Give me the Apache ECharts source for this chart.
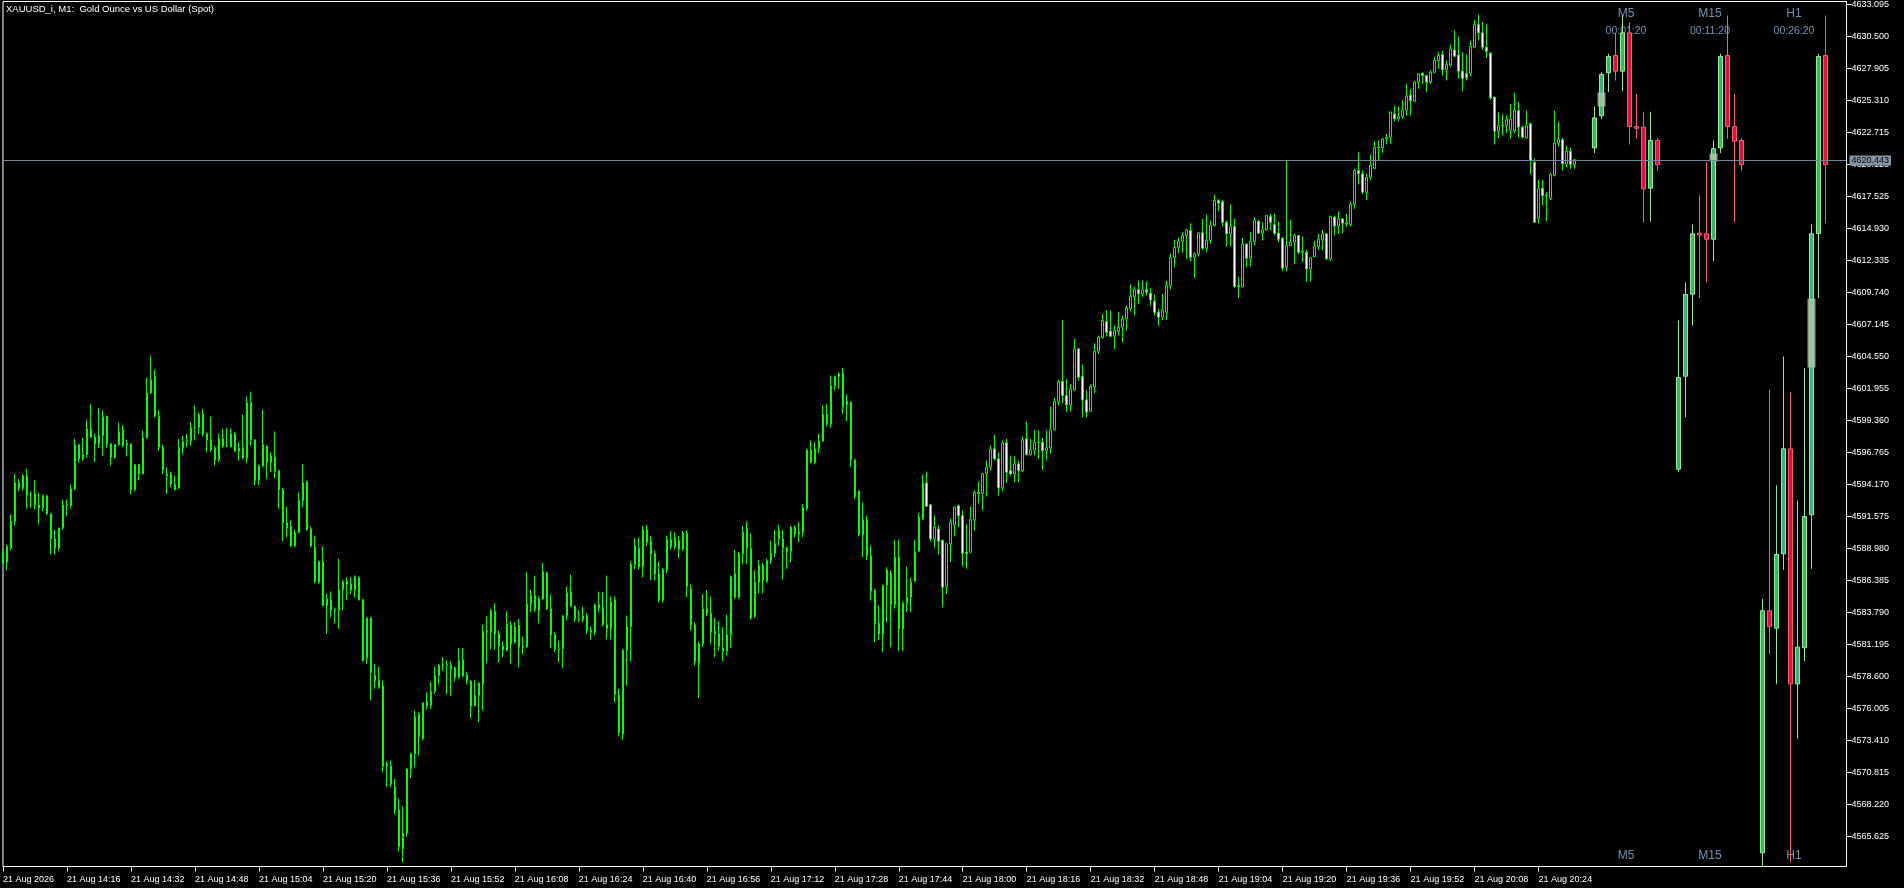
<!DOCTYPE html>
<html><head><meta charset="utf-8">
<script src="https://cdn.jsdelivr.net/npm/echarts@6/dist/echarts.min.js"></script>
<style>html,body{margin:0;padding:0;background:#000;overflow:hidden}#c{width:1904px;height:888px}</style>
</head><body><div id="c"></div>
<script>
const symbolTitle = 'XAUUSD_i, M1:  Gold Ounce vs US Dollar (Spot)';
const startMinute = 14 * 60;
const bidPrice = 4620.443;
const timeTickLabels = ['21 Aug 2026','21 Aug 14:16','21 Aug 14:32','21 Aug 14:48','21 Aug 15:04','21 Aug 15:20','21 Aug 15:36','21 Aug 15:52','21 Aug 16:08','21 Aug 16:24','21 Aug 16:40','21 Aug 16:56','21 Aug 17:12','21 Aug 17:28','21 Aug 17:44','21 Aug 18:00','21 Aug 18:16','21 Aug 18:32','21 Aug 18:48','21 Aug 19:04','21 Aug 19:20','21 Aug 19:36','21 Aug 19:52','21 Aug 20:08','21 Aug 20:24'];
const priceTicks = [4565.625,4568.220,4570.815,4573.410,4576.005,4578.600,4581.195,4583.790,4586.385,4588.980,4591.575,4594.170,4596.765,4599.360,4601.955,4604.550,4607.145,4609.740,4612.335,4614.930,4617.525,4620.120,4622.715,4625.310,4627.905,4630.500,4633.095];

const m1Open = [4588.6,4587.87,4589.0,4591.2,4594.3,4593.9,4594.87,4593.33,4593.4,4592.5,4592.3,4593.25,4591.8,4589.76,4589.03,4590.65,4592.52,4592.45,4593.82,4597.39,4596.25,4596.6,4598.68,4598.0,4597.47,4598.14,4599.68,4597.47,4596.39,4597.41,4598.6,4597.36,4597.47,4593.76,4595.79,4595.03,4597.95,4601.6,4602.93,4599.7,4597.2,4595.0,4594.95,4594.14,4593.9,4597.14,4597.66,4597.7,4598.76,4598.8,4599.84,4598.28,4597.79,4597.14,4596.17,4597.87,4597.28,4597.25,4598.3,4596.87,4597.14,4596.33,4600.8,4597.79,4594.49,4595.68,4597.3,4595.98,4596.4,4595.3,4593.76,4591.06,4590.76,4589.2,4590.3,4592.87,4594.4,4590.57,4589.09,4586.25,4587.92,4584.36,4584.8,4584.0,4583.95,4585.63,4586.3,4586.1,4585.63,4586.6,4584.82,4580.1,4583.36,4578.68,4578.28,4577.84,4571.35,4571.35,4569.63,4567.79,4564.63,4565.9,4571.11,4572.33,4575.5,4573.55,4576.55,4576.27,4577.38,4578.68,4579.49,4579.5,4579.55,4579.3,4578.54,4579.95,4578.73,4578.2,4576.25,4577.06,4578.0,4582.25,4582.2,4583.87,4582.06,4581.08,4580.7,4582.79,4581.38,4582.73,4580.98,4581.0,4584.49,4585.17,4584.0,4584.9,4587.0,4584.09,4581.98,4580.84,4580.84,4583.52,4585.41,4584.3,4583.27,4583.2,4583.52,4582.33,4582.2,4584.41,4584.2,4582.8,4582.5,4584.8,4577.1,4573.95,4580.71,4582.65,4587.68,4589.0,4587.5,4590.5,4589.5,4588.55,4586.92,4584.8,4587.25,4589.7,4589.9,4589.6,4588.95,4590.2,4585.71,4582.79,4579.68,4581.25,4584.09,4583.73,4582.27,4582.06,4580.65,4580.65,4581.98,4586.92,4585.03,4588.55,4590.6,4588.95,4583.46,4586.25,4587.6,4586.33,4588.0,4588.6,4590.4,4589.76,4589.03,4588.74,4590.71,4590.17,4590.3,4592.2,4596.98,4595.98,4597.06,4597.68,4599.82,4599.09,4602.17,4602.93,4603.14,4600.93,4600.85,4596.17,4593.63,4590.1,4591.3,4588.38,4585.57,4582.92,4582.06,4585.98,4586.93,4584.44,4588.28,4582.46,4584.55,4585.03,4586.33,4588.76,4591.38,4594.3,4592.52,4589.76,4590.57,4589.63,4585.9,4589.36,4590.9,4592.44,4591.65,4588.68,4588.68,4591.3,4593.52,4593.45,4595.03,4595.57,4597.06,4596.25,4593.9,4597.55,4595.3,4595.03,4595.84,4595.3,4597.87,4596.6,4596.98,4597.6,4597.6,4596.92,4597.14,4598.6,4600.9,4602.52,4601.39,4600.63,4601.85,4605.17,4602.93,4601.03,4600.11,4602.06,4604.98,4606.06,4607.39,4606.6,4606.2,4606.6,4606.93,4607.6,4608.41,4609.41,4609.96,4609.63,4609.96,4609.68,4609.04,4608.14,4607.74,4608.14,4610.3,4612.6,4613.4,4613.9,4614.36,4614.77,4612.6,4612.87,4614.58,4613.33,4613.95,4615.17,4617.2,4617.1,4615.44,4614.5,4615.09,4610.23,4610.2,4613.68,4612.52,4613.87,4615.52,4614.55,4614.82,4615.9,4615.23,4614.55,4614.14,4611.8,4613.55,4613.82,4614.36,4613.0,4613.0,4611.65,4612.66,4613.47,4614.0,4614.5,4612.47,4615.85,4615.14,4615.71,4615.36,4615.23,4616.88,4619.63,4619.36,4617.87,4619.09,4619.8,4621.52,4621.47,4622.2,4622.33,4624.22,4623.82,4624.0,4624.55,4625.74,4625.25,4626.8,4627.52,4627.33,4626.8,4627.6,4628.55,4629.04,4627.8,4628.15,4629.41,4629.0,4627.69,4627.47,4627.52,4629.63,4631.47,4630.8,4629.63,4629.15,4625.58,4622.82,4623.26,4623.3,4622.93,4622.87,4624.5,4623.15,4622.28,4623.42,4620.3,4615.79,4618.2,4617.6,4617.4,4619.23,4621.85,4622.12,4620.17,4621.2,4620.12];
const m1High = [4588.8,4589.3,4591.73,4595.03,4594.6,4595.03,4595.44,4593.6,4594.55,4593.5,4593.3,4593.3,4591.8,4590.5,4590.65,4592.95,4592.95,4594.17,4597.87,4597.4,4597.95,4599.4,4600.71,4598.3,4600.4,4600.17,4599.76,4597.5,4597.47,4599.2,4598.95,4597.82,4597.47,4595.84,4595.8,4598.55,4602.82,4604.6,4603.5,4600.2,4597.4,4595.57,4595.17,4594.87,4597.87,4598.14,4598.28,4599.22,4600.58,4600.0,4600.3,4598.4,4599.68,4597.3,4598.3,4598.68,4598.76,4598.68,4598.41,4597.6,4599.84,4601.3,4601.7,4597.8,4595.79,4600.22,4597.33,4596.79,4598.47,4595.36,4593.9,4592.38,4591.25,4590.5,4593.52,4595.84,4594.49,4590.76,4590.03,4588.0,4589.14,4585.3,4585.5,4584.2,4588.14,4586.4,4586.65,4586.65,4586.8,4586.7,4584.9,4583.4,4583.4,4579.63,4579.4,4578.28,4571.73,4571.78,4570.3,4568.68,4568.06,4571.2,4572.4,4575.84,4575.7,4576.5,4577.33,4578.19,4579.4,4579.63,4580.17,4579.9,4579.84,4579.4,4580.92,4580.92,4578.95,4578.33,4578.33,4578.14,4582.81,4583.46,4584.09,4584.54,4582.33,4581.46,4583.9,4583.08,4583.0,4583.27,4581.84,4587.06,4585.63,4586.79,4585.1,4587.82,4587.1,4585.25,4582.2,4581.5,4583.6,4585.9,4586.87,4584.35,4584.0,4584.27,4583.73,4582.65,4584.5,4585.49,4585.44,4586.79,4585.09,4585.09,4577.6,4580.84,4583.55,4587.95,4589.8,4589.9,4590.8,4590.9,4590.0,4588.8,4587.9,4587.4,4590.0,4590.4,4590.3,4590.0,4590.4,4590.5,4586.06,4583.0,4581.4,4585.3,4585.6,4585.1,4583.36,4583.1,4582.6,4583.6,4586.8,4588.87,4588.7,4590.8,4591.2,4590.2,4587.2,4588.06,4587.8,4588.14,4589.63,4590.5,4590.9,4590.49,4589.14,4590.8,4590.85,4591.12,4592.6,4597.05,4597.74,4597.6,4598.28,4600.58,4600.71,4603.0,4603.0,4603.28,4603.63,4601.47,4600.9,4596.25,4593.7,4592.68,4591.65,4589.22,4585.7,4584.36,4586.06,4587.46,4587.2,4589.68,4589.7,4584.68,4587.52,4586.6,4589.68,4591.87,4594.98,4595.22,4592.6,4591.65,4590.85,4589.7,4589.4,4591.38,4592.38,4592.55,4592.06,4590.98,4592.38,4593.68,4594.41,4595.1,4596.11,4597.33,4598.22,4596.79,4597.74,4597.87,4596.52,4596.44,4596.11,4598.06,4599.28,4597.87,4598.6,4598.55,4597.95,4598.55,4600.5,4601.2,4602.66,4607.52,4602.74,4602.33,4605.98,4605.2,4603.9,4601.79,4602.28,4605.63,4606.25,4608.01,4608.33,4608.28,4607.06,4608.14,4607.87,4608.68,4610.39,4610.2,4610.71,4610.71,4610.63,4610.12,4609.58,4608.41,4609.63,4610.7,4612.9,4614.0,4614.2,4614.63,4614.9,4615.36,4613.0,4614.6,4615.71,4616.07,4615.58,4617.69,4617.33,4617.25,4615.58,4616.88,4615.71,4611.0,4614.17,4613.7,4614.63,4615.85,4615.63,4615.44,4616.0,4616.12,4616.12,4615.44,4614.23,4620.44,4615.63,4614.5,4614.41,4614.28,4613.2,4612.6,4613.95,4614.5,4614.82,4614.55,4615.98,4615.98,4616.33,4615.79,4616.12,4617.07,4619.77,4621.09,4619.63,4619.36,4620.93,4622.01,4622.07,4622.25,4622.6,4624.44,4624.9,4624.82,4625.36,4626.66,4626.25,4626.88,4627.52,4627.6,4627.4,4627.74,4628.82,4629.23,4629.36,4628.55,4629.85,4630.99,4630.5,4629.23,4629.04,4630.17,4631.85,4632.28,4631.66,4631.47,4629.23,4625.63,4624.36,4624.2,4624.09,4625.04,4625.93,4625.17,4623.28,4624.5,4623.5,4620.58,4618.88,4618.88,4617.87,4619.42,4624.5,4623.55,4622.28,4621.66,4621.47,4620.58];
const m1Low = [4587.7,4587.2,4588.82,4590.84,4593.6,4593.68,4592.2,4592.28,4592.17,4590.95,4592.0,4591.7,4588.5,4588.5,4588.8,4590.5,4591.6,4592.2,4593.7,4595.93,4596.1,4596.33,4597.93,4595.98,4597.14,4596.52,4597.14,4595.71,4596.25,4597.3,4597.2,4596.44,4593.36,4593.63,4594.5,4595.0,4597.9,4601.5,4599.6,4596.9,4595.03,4593.41,4593.95,4593.68,4593.8,4596.6,4597.2,4597.33,4597.74,4598.28,4598.06,4596.79,4596.8,4595.71,4596.0,4597.14,4597.2,4597.14,4596.8,4596.1,4596.2,4595.9,4597.33,4594.09,4594.09,4595.57,4594.63,4595.17,4594.68,4592.2,4589.57,4589.9,4589.1,4589.1,4590.2,4592.33,4590.44,4589.09,4586.17,4586.1,4584.28,4582.06,4583.4,4582.9,4582.47,4583.95,4584.8,4585.3,4585.0,4584.76,4579.8,4579.63,4576.65,4577.6,4577.6,4570.84,4569.63,4569.63,4567.41,4564.43,4563.54,4565.62,4570.38,4571.24,4572.19,4573.4,4575.9,4575.98,4577.2,4577.95,4579.03,4577.14,4577.05,4578.2,4578.41,4578.54,4577.95,4575.22,4576.17,4574.9,4575.84,4579.68,4580.84,4580.76,4579.76,4580.17,4580.65,4579.63,4581.25,4579.35,4580.38,4580.9,4583.81,4583.81,4582.92,4584.8,4584.0,4580.92,4580.57,4579.76,4579.27,4583.14,4584.22,4583.0,4583.0,4583.0,4582.06,4581.6,4581.92,4583.81,4582.65,4581.63,4581.6,4576.52,4573.73,4573.46,4577.87,4579.84,4587.3,4587.3,4586.65,4589.2,4586.44,4586.38,4584.6,4584.6,4587.0,4588.9,4588.9,4588.22,4588.8,4585.03,4582.33,4579.5,4576.87,4581.0,4583.5,4581.25,4580.17,4580.7,4579.84,4580.3,4580.9,4584.9,4584.9,4587.73,4587.73,4583.2,4583.36,4585.36,4585.36,4586.2,4587.73,4588.3,4589.2,4586.47,4587.33,4587.87,4589.9,4589.49,4589.9,4592.06,4595.9,4595.79,4596.71,4597.6,4598.87,4598.76,4601.79,4601.93,4599.9,4599.3,4595.57,4593.0,4589.95,4588.28,4588.06,4584.76,4581.38,4581.57,4580.57,4583.0,4580.98,4584.09,4580.65,4580.65,4583.82,4583.82,4586.3,4588.7,4591.3,4592.35,4589.57,4589.03,4588.49,4584.22,4585.3,4587.87,4589.95,4590.71,4587.52,4587.33,4588.6,4590.44,4592.65,4592.06,4593.2,4595.3,4596.11,4593.28,4593.63,4594.28,4594.9,4594.36,4594.36,4595.17,4596.52,4596.52,4596.52,4596.25,4595.36,4596.11,4596.66,4598.55,4600.58,4600.77,4600.03,4600.1,4601.74,4602.6,4599.63,4599.63,4600.05,4601.58,4604.76,4605.98,4606.17,4606.12,4605.12,4606.25,4605.71,4606.66,4608.2,4607.87,4608.82,4609.36,4609.5,4608.68,4607.87,4607.06,4607.52,4607.52,4610.0,4611.8,4612.9,4613.0,4612.47,4612.28,4610.93,4612.66,4613.2,4613.0,4613.68,4615.1,4616.33,4615.09,4613.47,4613.47,4610.12,4609.28,4610.15,4611.8,4611.85,4613.55,4614.5,4613.95,4614.77,4614.77,4614.36,4613.82,4611.47,4611.47,4613.5,4612.06,4612.87,4612.2,4610.58,4610.66,4612.6,4613.2,4613.15,4612.39,4612.28,4614.36,4614.5,4614.55,4615.09,4615.09,4616.52,4618.5,4617.74,4617.25,4618.87,4619.77,4620.5,4621.04,4621.74,4621.8,4623.63,4623.63,4623.82,4624.09,4624.09,4625.17,4626.25,4626.66,4625.98,4626.66,4627.52,4627.88,4627.33,4626.93,4628.06,4628.82,4627.07,4626.07,4626.93,4627.25,4629.6,4630.17,4629.42,4628.77,4625.36,4621.74,4622.28,4622.47,4622.66,4622.2,4622.66,4622.33,4622.2,4622.2,4619.31,4615.4,4615.36,4616.8,4615.5,4617.25,4619.15,4621.58,4619.63,4619.9,4619.77,4619.77];
const m1Close = [4587.9,4589.14,4591.2,4594.3,4593.9,4594.87,4593.33,4593.4,4592.52,4592.28,4593.25,4591.8,4589.76,4589.03,4590.65,4592.52,4592.45,4593.82,4597.39,4596.25,4596.6,4598.68,4598.0,4597.47,4598.14,4599.68,4597.47,4596.39,4597.41,4598.44,4597.36,4597.5,4593.76,4595.79,4595.03,4597.95,4601.6,4602.66,4599.7,4597.2,4595.36,4594.85,4594.22,4593.76,4597.14,4597.66,4597.75,4598.76,4598.8,4599.84,4598.28,4597.79,4596.98,4596.17,4597.87,4597.28,4597.25,4598.28,4596.87,4597.14,4596.33,4600.8,4597.79,4594.49,4595.68,4597.39,4595.98,4596.5,4595.22,4593.76,4591.06,4590.65,4589.2,4590.25,4592.87,4594.3,4590.52,4589.17,4586.3,4587.92,4584.36,4584.9,4584.0,4583.95,4585.63,4586.3,4586.1,4585.63,4586.7,4584.82,4579.9,4583.36,4578.95,4578.28,4577.73,4571.35,4571.5,4569.9,4567.79,4564.81,4565.9,4571.11,4572.33,4575.35,4573.76,4576.46,4576.27,4577.38,4578.68,4579.49,4579.52,4579.57,4579.2,4578.54,4579.9,4578.68,4578.33,4576.2,4577.06,4578.06,4582.25,4582.2,4583.95,4582.06,4581.08,4580.76,4582.87,4581.25,4582.6,4580.98,4581.0,4584.49,4585.17,4584.09,4584.9,4587.09,4584.09,4581.98,4580.84,4580.8,4583.52,4585.41,4584.3,4583.27,4583.2,4583.52,4582.33,4582.2,4584.41,4584.2,4582.81,4582.5,4584.63,4577.19,4574.08,4580.71,4582.65,4587.68,4589.2,4587.5,4590.5,4589.5,4588.55,4586.92,4584.8,4587.25,4589.7,4589.14,4589.14,4588.95,4590.2,4585.92,4582.79,4579.84,4581.25,4584.09,4583.73,4582.2,4582.06,4581.08,4580.92,4581.98,4586.71,4585.03,4588.55,4590.3,4589.03,4583.33,4586.25,4587.6,4586.44,4588.0,4588.6,4589.36,4589.76,4589.03,4588.74,4590.71,4590.17,4590.3,4592.25,4596.98,4595.98,4597.06,4597.68,4599.82,4599.09,4602.17,4602.93,4603.14,4600.44,4600.66,4596.17,4593.2,4590.11,4591.3,4588.41,4585.52,4582.87,4582.06,4585.98,4587.25,4584.44,4588.28,4582.46,4584.55,4585.03,4586.25,4588.68,4591.52,4594.3,4592.41,4589.76,4590.71,4589.57,4585.84,4589.36,4591.12,4592.33,4591.65,4588.6,4588.55,4591.3,4593.52,4593.45,4595.03,4595.57,4597.06,4596.25,4593.9,4597.55,4595.17,4595.03,4595.84,4595.3,4597.79,4596.6,4596.98,4597.6,4597.6,4596.92,4597.14,4598.6,4600.9,4602.52,4601.39,4600.63,4601.93,4605.17,4602.87,4601.03,4600.03,4602.12,4604.98,4606.12,4607.47,4606.52,4606.2,4606.66,4606.93,4607.6,4608.5,4609.41,4609.96,4609.63,4609.96,4609.77,4609.14,4608.14,4607.74,4608.33,4610.3,4612.6,4613.4,4613.9,4614.36,4614.82,4612.6,4612.87,4614.58,4613.33,4613.95,4615.17,4617.2,4616.98,4615.44,4614.5,4615.09,4610.23,4610.3,4613.68,4612.52,4613.87,4615.58,4614.55,4614.82,4615.98,4615.44,4614.55,4614.06,4611.71,4613.55,4613.82,4614.36,4613.0,4613.1,4611.65,4612.55,4613.47,4614.09,4614.5,4612.47,4615.9,4615.14,4615.71,4615.36,4615.3,4616.88,4619.63,4619.36,4617.87,4619.09,4620.04,4621.52,4621.5,4622.2,4622.33,4624.36,4623.82,4624.0,4624.55,4625.66,4625.31,4626.8,4627.47,4627.33,4626.8,4627.6,4628.55,4628.96,4627.8,4628.23,4629.5,4628.9,4627.69,4627.07,4627.15,4629.69,4631.47,4630.8,4629.63,4629.31,4625.53,4622.82,4623.26,4623.3,4623.74,4623.82,4624.5,4623.15,4622.33,4623.26,4620.44,4615.44,4618.14,4617.6,4617.65,4619.31,4621.85,4622.12,4620.17,4621.2,4620.12,4620.5];

// multi-timeframe panel bars: [open, high, low, close]
const m5Bars = [[4621.47,4624.82,4621.04,4623.9],[4624.07,4627.6,4623.8,4627.42],[4627.56,4629.1,4626.0,4628.88],[4628.96,4630.8,4626.93,4627.69],[4627.69,4632.2,4626.06,4630.8],[4630.8,4631.66,4621.74,4623.2],[4623.2,4625.85,4622.2,4623.06],[4623.15,4624.4,4615.4,4618.15],[4618.2,4624.4,4615.5,4622.07],[4622.07,4622.25,4619.6,4620.1]];
const m15Bars = [[4595.41,4607.47,4595.17,4602.85],[4602.95,4610.55,4599.63,4609.58],[4609.6,4615.25,4607.06,4614.5],[4614.55,4617.6,4609.3,4614.4],[4614.5,4620.34,4610.57,4614.06],[4614.06,4622.07,4612.28,4621.4],[4621.47,4629.1,4621.04,4628.88],[4628.96,4632.2,4622.2,4623.2],[4623.2,4625.85,4615.4,4622.0],[4622.07,4622.25,4619.6,4620.1]];
const h1Bars = [[4564.3,4584.9,4563.13,4583.93],[4583.93,4601.87,4580.41,4582.63],[4582.52,4594.09,4578.0,4588.49],[4588.55,4604.55,4587.25,4597.06],[4597.06,4601.63,4563.54,4578.0],[4578.0,4592.87,4573.55,4580.98],[4580.93,4603.6,4579.84,4591.57],[4591.71,4615.25,4587.33,4614.5],[4614.52,4629.1,4609.28,4628.88],[4628.96,4632.2,4615.36,4620.1]];
const panelNames = ['M5','M15','H1'];
const panelTimers = ['00:01:20','00:11:20','00:26:20'];
// highlighted ranges drawn over one bar in each panel: [slot, low, high]
const ghostBoxes = [[1,4624.82,4625.96],[17,4620.36,4621.0],[31,4603.65,4609.25]];

const FONT = "'Liberation Sans', Arial, sans-serif";
const N_SLOTS = 462;
const minuteCats = [];
for (let i = 0; i < N_SLOTS; i++) {
  const m = startMinute + i;
  minuteCats.push(String(Math.floor(m / 60) % 24).padStart(2, '0') + ':' + String(m % 60).padStart(2, '0'));
}
const m1Data = m1Open.map((o, i) => {
  const c = m1Close[i];
  return [o, c, Math.min(m1Low[i], o, c), Math.max(m1High[i], o, c)];
});

const PANEL_SLOTS = 34;
const panelStarts = [0, 12, 24];
const panelCats = Array.from({length: PANEL_SLOTS}, (_, i) => 'p' + i);
const panelData = new Array(PANEL_SLOTS).fill('-');
[m5Bars, m15Bars, h1Bars].forEach((bars, p) => {
  bars.forEach((b, k) => {
    const [o, h, l, c] = b;
    panelData[panelStarts[p] + k] = [o, c, Math.min(l, o, c), Math.max(h, o, c)];
  });
});
const ghostData = new Array(PANEL_SLOTS).fill('-');
ghostBoxes.forEach(g => { ghostData[g[0]] = [g[1], g[2], g[1], g[2]]; });

const yMin = 4563.192, yMax = 4633.338;
const tickShown = (idx) => idx % 16 === 0 && idx / 16 < timeTickLabels.length;

const chart = echarts.init(document.getElementById('c'), null, {renderer: 'canvas', width: 1904, height: 888});

const panelCentersX = [1626, 1710, 1794];
const graphics = [{
  type: 'text', x: 6, y: 9.5,
  style: {text: symbolTitle, fill: '#ffffff', font: '9.5px ' + FONT, align: 'left', verticalAlign: 'middle'}
}];
panelNames.forEach((n, p) => {
  graphics.push({type: 'text', x: panelCentersX[p], y: 14, style: {text: n, fill: '#7393b3', font: '12px ' + FONT, align: 'center', verticalAlign: 'middle'}});
  graphics.push({type: 'text', x: panelCentersX[p], y: 31, style: {text: panelTimers[p], fill: '#7393b3', font: '10.5px ' + FONT, align: 'center', verticalAlign: 'middle'}});
  graphics.push({type: 'text', x: panelCentersX[p], y: 856, style: {text: n, fill: '#7393b3', font: '12px ' + FONT, align: 'center', verticalAlign: 'middle'}});
});

chart.setOption({
  backgroundColor: '#000000',
  animation: false,
  grid: [
    {left: 2.5, top: 1.5, width: 1844, height: 865, show: true, borderColor: '#ffffff', borderWidth: 1, backgroundColor: 'transparent', containLabel: false},
    {left: 1591, top: 1.5, width: 238, height: 865, show: false, containLabel: false}
  ],
  xAxis: [{
    type: 'category', gridIndex: 0, data: minuteCats, boundaryGap: false,
    axisLine: {show: true, lineStyle: {color: '#ffffff', width: 1}},
    axisTick: {show: true, interval: tickShown, length: 5, lineStyle: {color: '#ffffff'}},
    axisLabel: {show: true, interval: tickShown, color: '#ffffff', fontSize: 9, fontFamily: FONT, align: 'left', margin: 9,
      formatter: (v, idx) => tickShown(idx) ? timeTickLabels[idx / 16] : ''},
    splitLine: {show: false}
  }, {
    type: 'category', gridIndex: 1, data: panelCats, boundaryGap: true, show: false
  }],
  yAxis: [{
    type: 'value', gridIndex: 0, position: 'right', min: yMin, max: yMax, scale: true,
    axisLine: {show: true, lineStyle: {color: '#ffffff', width: 1}},
    axisTick: {show: true, length: 5, customValues: priceTicks, lineStyle: {color: '#ffffff'}},
    axisLabel: {show: true, customValues: priceTicks, color: '#ffffff', fontSize: 9, fontFamily: FONT, margin: 5,
      formatter: v => Number(v).toFixed(3)},
    splitLine: {show: false}
  }, {
    type: 'value', gridIndex: 1, min: yMin, max: yMax, scale: true, show: false, splitLine: {show: false}
  }],
  graphic: graphics,
  series: [{
    type: 'candlestick', name: 'M1', xAxisIndex: 0, yAxisIndex: 0, data: m1Data, barWidth: 2, clip: true,
    itemStyle: {color: '#000000', color0: '#ffffff', borderColor: '#00ff00', borderColor0: '#00ff00', borderWidth: 1},
    markLine: {
      silent: true, symbol: ['none', 'none'], animation: false,
      lineStyle: {color: '#778899', width: 1, type: 'solid'},
      label: {show: true, position: 'end', distance: 3, formatter: bidPrice.toFixed(3), color: '#0a0a0a', backgroundColor: '#8494a6',
        padding: [1, 2, 0, 2], fontSize: 9, fontFamily: FONT, lineHeight: 9},
      data: [{yAxis: bidPrice}]
    }
  }, {
    type: 'candlestick', name: 'panel', xAxisIndex: 1, yAxisIndex: 1, data: panelData, barWidth: 4, clip: true,
    itemStyle: {color: '#3cb371', color0: '#dc143c', borderColor: '#90ee90', borderColor0: '#ff5c74', borderWidth: 1}
  }, {
    type: 'candlestick', name: 'ghost', xAxisIndex: 1, yAxisIndex: 1, data: ghostData, barWidth: 8, clip: true, z: 3,
    itemStyle: {color: 'rgba(175,200,170,0.8)', color0: 'rgba(175,200,170,0.8)', borderColor: 'rgba(175,200,170,0.8)', borderColor0: 'rgba(175,200,170,0.8)', borderWidth: 0}
  }]
});
</script>
</body></html>
